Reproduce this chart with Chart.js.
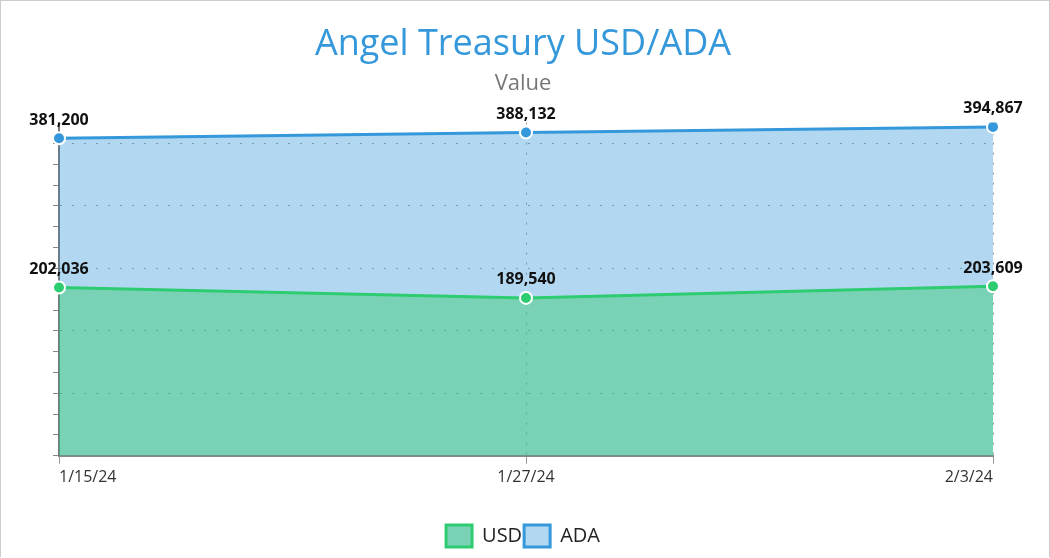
<!DOCTYPE html><html><head><meta charset="utf-8">
<script src="https://cdn.jsdelivr.net/npm/chart.js@4"></script>
<style>html,body{margin:0;padding:0;background:#fff}#w{position:absolute;left:0;top:0;width:1048px;height:556px;border:1px solid #ccc;border-bottom:none}</style>
</head><body><div id="w"><canvas id="c"></canvas></div>
<script>
const categories=['1/15/24','1/27/24','2/3/24'];
const usdValues=[202036,189540,203609];
const adaValues=[381200,388132,394867];
const seriesNames=['USD','ADA'];
const fmt=v=>v.toLocaleString('en-US');
const labelsPlugin={id:'lbl',afterDatasetsDraw(ch){const c=ch.ctx;c.save();c.font='bold 16px "Open Sans"';c.fillStyle='#111';c.textAlign='center';c.textBaseline='bottom';
ch.data.datasets.forEach((d,i)=>{ch.getDatasetMeta(i).data.forEach((p,j)=>{let x=p.x;const w=c.measureText(fmt(d.data[j])).width;x=Math.max(x,w/2+24);x=Math.min(x,1048-w/2-22);c.fillText(fmt(d.data[j]),x,p.y-10);});});c.restore();}};
new Chart(document.getElementById('c'),{type:'line',plugins:[labelsPlugin],
data:{labels:categories,datasets:[
{label:seriesNames[0],data:usdValues,borderColor:'#2ecc71',backgroundColor:'rgba(46,184,140,0.64)',fill:'origin',borderWidth:3,pointRadius:6,pointBorderColor:'#fff',pointBackgroundColor:'#2ecc71',pointBorderWidth:2,tension:0},
{label:seriesNames[1],data:adaValues,borderColor:'#3498db',backgroundColor:'rgba(52,152,219,0.38)',fill:'-1',borderWidth:3,pointRadius:6,pointBorderColor:'#fff',pointBackgroundColor:'#3498db',pointBorderWidth:2,tension:0}]},
options:{responsive:true,maintainAspectRatio:false,animation:false,
layout:{padding:{left:52,right:56,top:0,bottom:0}},
plugins:{title:{display:true,text:'Angel Treasury USD/ADA',color:'#3498db',font:{family:'Open Sans',size:36,weight:'normal'},padding:{top:22,bottom:4}},
subtitle:{display:true,text:'Value',color:'#777',font:{family:'Open Sans',size:22},padding:{bottom:26}},
legend:{position:'bottom',labels:{color:'#222',font:{family:'Open Sans',size:20},boxWidth:26,boxHeight:22,padding:2}},tooltip:{enabled:false}},
scales:{x:{offset:false,afterFit(s){s.height+=32;},grid:{color:'#999',tickColor:'#999',tickLength:8},border:{display:true,color:'#888',width:2,dash:[2,8]},ticks:{color:'#333',font:{family:'Open Sans',size:16},padding:4,align:'inner'}},
y:{min:0,max:400000,afterBuildTicks(s){const t=[];for(let v=0;v<=375000;v+=25000)t.push({value:v});s.ticks=t;},
grid:{color:c=>(c.tick&&c.tick.value%75000===0&&c.tick.value>0)?'#999':'rgba(0,0,0,0)',tickColor:'#888',tickLength:6},
border:{color:'#777',width:2,dash:[2,10]},ticks:{display:true,callback:()=>'',padding:0}}}}});
</script></body></html>
